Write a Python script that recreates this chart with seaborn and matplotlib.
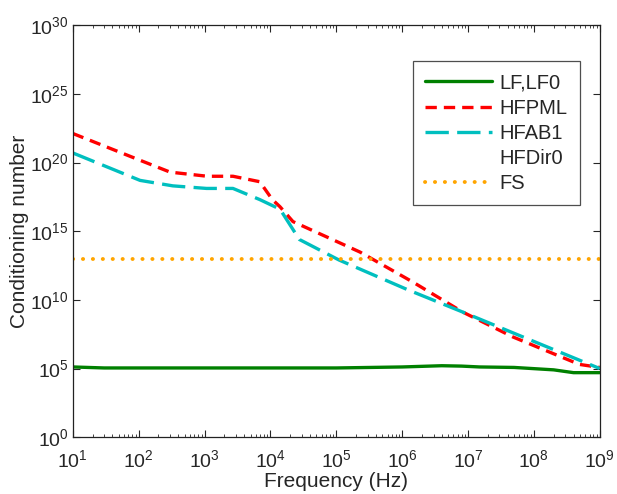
import numpy as np
import pandas as pd
import seaborn as sns
import matplotlib.pyplot as plt

# values (frequency in Hz, conditioning number)
lf_freq = [1e1, 3e1, 1e2, 1e3, 1e4, 1e5, 1e6, 4e6, 8e6, 1.5e7, 5e7, 2e8, 4e8, 1e9]
lf_cond = [1.3e5, 1.1e5, 1.1e5, 1.1e5, 1.1e5, 1.1e5, 1.3e5, 1.6e5, 1.5e5, 1.3e5, 1.2e5, 8e4, 5e4, 5e4]

pml_freq = [1e1, 1e2, 3e2, 1.1e3, 2.7e3, 6.9e3, 1.07e4, 1.4e4, 2.2e4, 2.3e5, 1.45e6, 8.3e6, 4.8e7, 4.9e8, 1e9]
pml_cond = [1.3e22, 1.6e20, 2e19, 1e19, 1e19, 4e18, 2e17, 6e16, 5e15, 3e13, 2e11, 1.3e9, 2e7, 2e5, 1.2e5]

ab1_freq = [1e1, 1.05e2, 3.3e2, 1.07e3, 2.7e3, 6.9e3, 1.4e4, 2.75e4, 1.1e5, 1.2e6, 8.3e6, 4.8e7, 1e9]
ab1_cond = [5e20, 5e18, 2e18, 1.3e18, 1.3e18, 2e17, 4e16, 2.5e14, 8e12, 5.6e10, 1.3e9, 4e7, 1e5]

fs_freq = [1e1, 1e9]
fs_cond = [1e13, 1e13]

sns.set_style('ticks')
plt.rcParams['font.family'] = ['Liberation Sans', 'DejaVu Sans']
plt.rcParams['mathtext.fontset'] = 'custom'
plt.rcParams['mathtext.rm'] = 'Liberation Sans'
plt.rcParams['mathtext.it'] = 'Liberation Sans'

fig = plt.figure(figsize=(6.17, 4.94), dpi=100)
ax = fig.add_axes([0.118, 0.115, 0.854, 0.834])

sns.lineplot(x=lf_freq, y=lf_cond, ax=ax, color='#008000', lw=2.4, label='LF,LF0')
sns.lineplot(x=pml_freq, y=pml_cond, ax=ax, color='#ff0000', lw=2.4,
             label='HFPML').lines[-1].set_dashes((3.4, 2.1))
sns.lineplot(x=ab1_freq, y=ab1_cond, ax=ax, color='#00bfbf', lw=2.4,
             label='HFAB1').lines[-1].set_dashes((7.0, 2.5))
ax.plot([], [], color='none', label='HFDir0')
sns.lineplot(x=fs_freq, y=fs_cond, ax=ax, color='#ffa500', lw=2.8, label='FS')
fsline = ax.lines[-1]
fsline.set_dashes((0.05, 2.5))
fsline.set_dash_capstyle('round')

ax.set_xscale('log')
ax.set_yscale('log')
ax.set_xlim(1e1, 1e9)
ax.set_ylim(1e0, 1e30)
ax.set_xticks([10.0**k for k in range(1, 10)])
ax.set_yticks([10.0**k for k in range(0, 31, 5)])
ax.yaxis.set_minor_locator(plt.NullLocator())
ax.tick_params(which='both', direction='in', top=True, right=True, labelsize=14)
ax.tick_params(axis='x', pad=9)
ax.tick_params(axis='y', pad=3)
ax.tick_params(which='major', length=5)
ax.tick_params(which='minor', length=2.5)
for s in ax.spines.values():
    s.set_linewidth(0.9)
    s.set_color('#222222')

ax.set_xlabel('Frequency (Hz)', fontsize=15, labelpad=0)
ax.set_ylabel('Conditioning number', fontsize=15, labelpad=1)

leg = ax.legend(loc='upper left', bbox_to_anchor=(0.645, 0.913), fontsize=14.5,
                frameon=True, fancybox=False, handlelength=3.3, handletextpad=0.4,
                borderpad=0.62, labelspacing=0.3, borderaxespad=0)
leg.get_frame().set_edgecolor('#222222')
leg.get_frame().set_linewidth(0.9)

fig.savefig('out.png', dpi=100)
